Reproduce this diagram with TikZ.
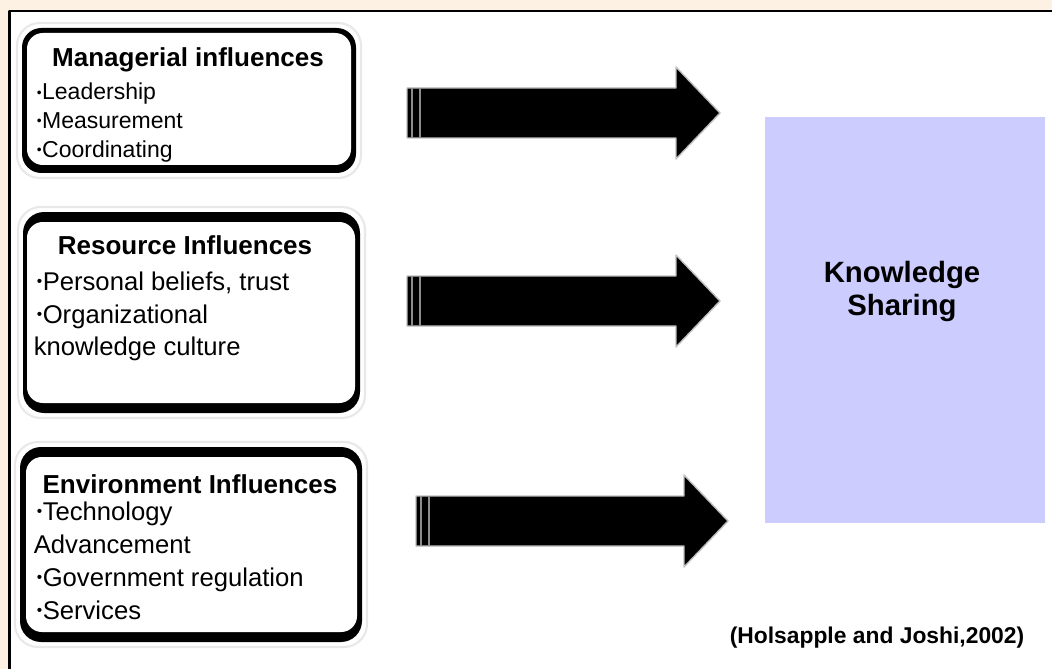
\documentclass[tikz,border=0pt]{standalone}
\usepackage{fontspec}
\setmainfont{Liberation Sans}
\definecolor{cream}{HTML}{FDF1E3}
\definecolor{lilac}{HTML}{CCCCFF}
\newcommand{\bul}{\raisebox{.13em}{\scalebox{.6}{•}}\kern.02em}
\tikzset{
  head/.style={font=\bfseries\fontsize{14.8}{17}\selectfont, inner sep=0pt, anchor=base},
  smallitem/.style={font=\fontsize{13.1}{15}\selectfont, inner sep=0pt, anchor=base west},
  bigitem/.style={font=\fontsize{14.6}{17}\selectfont, inner sep=0pt, anchor=base west},
  halo/.style={draw=black!9, line width=1.2pt, fill=white},
}
\begin{document}
\begin{tikzpicture}[x=0.02cm, y=-0.02cm, line join=round]
    \useasboundingbox (0,0) rectangle (1052,669);
    \fill[cream] (0,0) rectangle (1052,669);
    \fill[white] (9.5,11) rectangle (1052,669);
    \draw[line width=1.7pt] (9.5,669) -- (9.5,11) -- (1052,11);

    % managerial box
    \draw[halo, rounded corners=13pt] (17,23) rectangle (361,178);
    \fill[rounded corners=11pt] (22,28) rectangle (356,173);
    \fill[white, rounded corners=9pt] (27,33) rectangle (351,165);
    \node[head] (mgr) at (188,67) {Managerial influences};
    \foreach \xx/\yy/\txt [count=\i] in {36.5/100/\bul Leadership, 36.5/128.5/\bul Measurement, 36.5/157/\bul Coordinating}
      \node[smallitem] (m\i) at (\xx,\yy) {\txt};

    % resource box
    \draw[halo, rounded corners=13pt] (18,207) rectangle (365,418);
    \fill[rounded corners=12pt] (23,212) rectangle (360,413);
    \fill[white, rounded corners=9pt] (27,222) rectangle (355,403);
    \node[head] (res) at (185,255) {Resource Influences};
    \foreach \xx/\yy/\txt [count=\i] in {36.5/290/{\bul Personal beliefs, trust}, 36.5/323/\bul Organizational, 33.5/355/knowledge culture}
      \node[bigitem] (r\i) at (\xx,\yy) {\txt};

    % environment box
    \draw[halo, rounded corners=13pt] (15,442) rectangle (367,647);
    \fill[rounded corners=12pt] (20,447) rectangle (362,642);
    \fill[white, rounded corners=9pt] (26,457) rectangle (357,632);
    \node[head] (env) at (190,493) {Environment Influences};
    \foreach \xx/\yy/\txt [count=\i] in {36.5/520/\bul Technology, 33.5/553/Advancement, 36.5/586/\bul Government regulation, 36.5/619/\bul Services}
      \node[bigitem] (e\i) at (\xx,\yy) {\txt};

    % knowledge sharing
    \node[fill=lilac, minimum width=5.6cm, minimum height=8.12cm, inner sep=0pt] (ks) at (905,320) {};
    \node[font=\bfseries\fontsize{16.7}{18.8}\selectfont, align=center, inner sep=0pt] (kst) at (902,291) {Knowledge\\Sharing};

    % block arrows
    \foreach \xa/\yc/\xt in {407/113/720, 407/301/720, 416/521/728} {
      \path[fill=black, draw=black!25, line width=0.8pt] (\xa,\yc-25) -- (\xt-44,\yc-25) -- (\xt-44,\yc-46) -- (\xt,\yc) -- (\xt-44,\yc+46) -- (\xt-44,\yc+25) -- (\xa,\yc+25) -- cycle;
      \draw[black!45, line width=0.6pt] (\xa+5,\yc-25) -- (\xa+5,\yc+25) (\xa+13,\yc-25) -- (\xa+13,\yc+25);
    }

    \node[font=\bfseries\fontsize{13}{15}\selectfont, inner sep=0pt, anchor=base] (cite) at (877,643) {(Holsapple and Joshi,2002)};
\end{tikzpicture}
\end{document}
